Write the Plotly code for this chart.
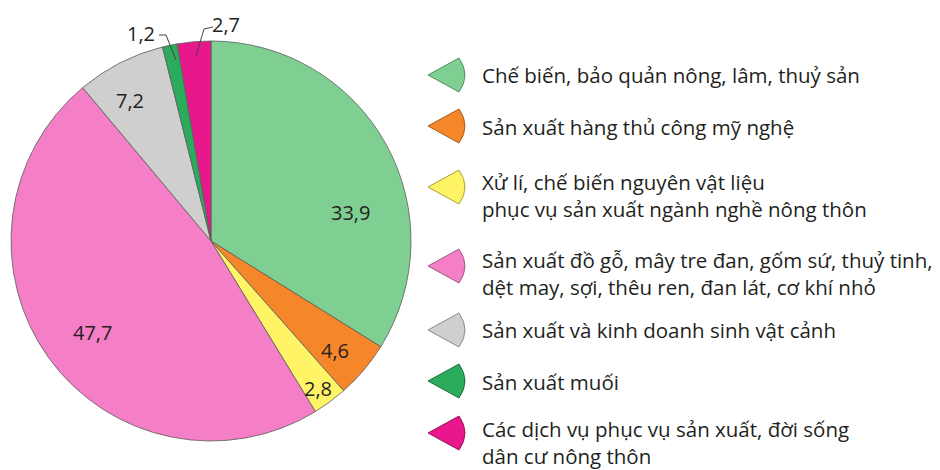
import plotly.graph_objects as go

# data
categories = [
    "Chế biến, bảo quản nông, lâm, thuỷ sản",
    "Sản xuất hàng thủ công mỹ nghệ",
    "Xử lí, chế biến nguyên vật liệu\nphục vụ sản xuất ngành nghề nông thôn",
    "Sản xuất đồ gỗ, mây tre đan, gốm sứ, thuỷ tinh,\ndệt may, sợi, thêu ren, đan lát, cơ khí nhỏ",
    "Sản xuất và kinh doanh sinh vật cảnh",
    "Sản xuất muối",
    "Các dịch vụ phục vụ sản xuất, đời sống\ndân cư nông thôn",
]
values = [33.9, 4.6, 2.8, 47.7, 7.2, 1.2, 2.7]
colors = ["#7fcf92", "#f5862a", "#fff466", "#f47fc6", "#cfcfcf", "#2bab5c", "#e8178c"]
edge_colors = ["#4f8f5f", "#a65a1c", "#a89f3a", "#a3558a", "#8a8a8a", "#1d6f3c", "#991060"]

W, H = 940, 470
FONT = "Open Sans"

# pixel layout (positions only)
pie_cx, pie_cy, pie_r = 211, 241, 200
label_pos = [(350, 212), (335, 350), (318, 388), (92, 332), (130, 100), (141, 33), (226, 24)]
leader_paths = [[(159, 35), (166, 35), (176, 60)], [(213, 27), (204, 29), (196, 56)]]
marker_x = 447
marker_y = [75, 126, 187, 266, 330, 381, 433]
text_x = 480
text_y = [75, 127, 195, 273, 330, 382, 442]


def fmt(v):
    return f"{v:.1f}".replace(".", ",")


def wedge_path(cx, cy):
    # small pie-wedge legend key pointing left
    return (f"M {cx - 19},{cy} L {cx + 12},{cy - 17} "
            f"Q {cx + 24},{cy} {cx + 12},{cy + 17} Z")


fig = go.Figure()

fig.add_trace(go.Pie(
    values=values,
    labels=[c.replace("\n", " ") for c in categories],
    sort=False,
    direction="clockwise",
    rotation=0,
    marker=dict(colors=colors, line=dict(color="#5c5c5c", width=0.8)),
    textinfo="none",
    showlegend=False,
    domain=dict(
        x=[(pie_cx - pie_r) / W, (pie_cx + pie_r) / W],
        y=[1 - (pie_cy + pie_r) / H, 1 - (pie_cy - pie_r) / H],
    ),
))

annotations = []
for cat, y in zip(categories, text_y):
    annotations.append(dict(
        x=text_x, y=y, xref="x", yref="y", text=cat.replace("\n", "<br>"),
        showarrow=False, xanchor="left", yanchor="middle", align="left",
        font=dict(family=FONT, size=20.5, color="#231f20"),
    ))

for v, (lx, ly) in zip(values, label_pos):
    annotations.append(dict(
        x=lx, y=ly, xref="x", yref="y", text=fmt(v), showarrow=False,
        xanchor="center", yanchor="middle",
        font=dict(family=FONT, size=20, color="#231f20"),
    ))

shapes = []
for pts in leader_paths:
    path = "M " + " L ".join(f"{px},{py}" for px, py in pts)
    shapes.append(dict(type="path", path=path, xref="x", yref="y",
                       line=dict(color="#444444", width=1)))

for my, c, ec in zip(marker_y, colors, edge_colors):
    shapes.append(dict(type="path", path=wedge_path(marker_x, my), xref="x", yref="y",
                       fillcolor=c, line=dict(color=ec, width=1)))

fig.update_layout(
    width=W, height=H,
    margin=dict(l=0, r=0, t=0, b=0),
    paper_bgcolor="white", plot_bgcolor="rgba(0,0,0,0)",
    xaxis=dict(range=[0, W], visible=False, fixedrange=True, domain=[0, 1]),
    yaxis=dict(range=[H, 0], visible=False, fixedrange=True, domain=[0, 1]),
    annotations=annotations,
    shapes=shapes,
    showlegend=False,
)

fig.write_html("out.html", config={"displayModeBar": False},
               post_script="document.body.style.margin='0';")
